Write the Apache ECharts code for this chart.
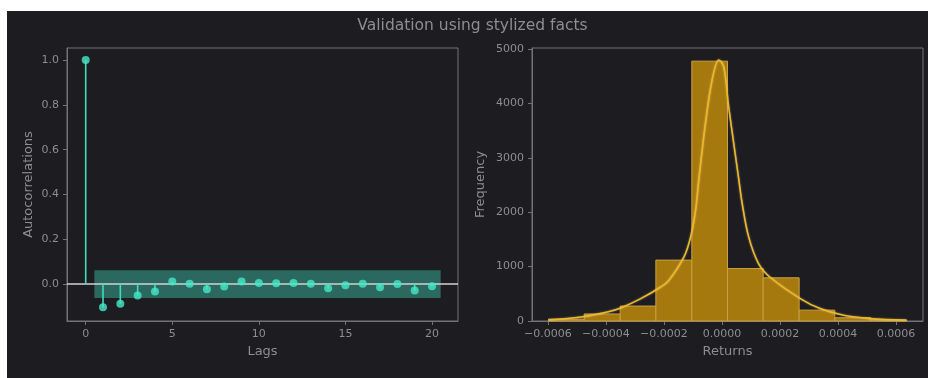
<!DOCTYPE html>
<html>
<head>
<meta charset="utf-8">
<script src="https://cdn.jsdelivr.net/npm/echarts@6/dist/echarts.min.js"></script>
<style>
  html, body { margin: 0; padding: 0; background: #ffffff; }
  #chart { width: 928px; height: 378px; }
</style>
</head>
<body>
<div id="chart"></div>
<script>
// Autocorrelation of returns, lags 0..20
const acfLags = [0, 1, 2, 3, 4, 5, 6, 7, 8, 9, 10, 11, 12, 13, 14, 15, 16, 17, 18, 19, 20];
const acfValues = [1.0, -0.104, -0.088, -0.051, -0.033, 0.011, 0.001, -0.023, -0.011, 0.011,
                   0.005, 0.004, 0.005, 0.001, -0.019, -0.005, 0.001, -0.014, 0.000, -0.029, -0.010];
const confBand = 0.062;
const confLagRange = [0.5, 20.5];
const acfTicksX = [0, 5, 10, 15, 20];
const acfTicksY = [0.0, 0.2, 0.4, 0.6, 0.8, 1.0];

// Histogram of returns
const binEdges = [-0.000598, -0.000475, -0.000351, -0.000228, -0.000104, 0.000019,
                  0.000142, 0.000266, 0.000389, 0.000513, 0.000636];
const binCounts = [35, 130, 275, 1120, 4780, 965, 795, 200, 60, 20];

// Kernel density estimate (scaled to counts)
const kdeX = [-0.000598, -0.000486, -0.000395, -0.000349, -0.000280, -0.000211, -0.000184,
              -0.000131, -0.000108, -0.000091, -0.000080, -0.000057, -0.000034, -0.000011,
              0.000006, 0.000023, 0.000041, 0.000058, 0.000069, 0.000092, 0.000126, 0.000167,
              0.000270, 0.000338, 0.000419, 0.000510, 0.000636];
const kdeY = [18, 74, 166, 240, 412, 626, 740, 1179, 1547, 2039, 2591, 3635, 4433, 4801,
              4678, 3941, 3250, 2600, 2180, 1547, 1057, 800, 412, 228, 105, 44, 12];
const histTicksX = [-0.0006, -0.0004, -0.0002, 0, 0.0002, 0.0004, 0.0006];
const histTicksY = [0, 1000, 2000, 3000, 4000, 5000];

const BG = '#1c1c21';
const FRAME = '#747474';
const TXT = '#8e8e8e';
const FONT = 'DejaVu Sans';

function axisCommon(ticks, fmt) {
  return {
    axisLine: { show: true, onZero: false, lineStyle: { color: FRAME, width: 1 } },
    axisTick: { show: true, length: 4, customValues: ticks, lineStyle: { color: FRAME } },
    axisLabel: { customValues: ticks, formatter: fmt, color: TXT, fontSize: 11, fontFamily: FONT, margin: 8 },
    splitLine: { show: false },
    nameTextStyle: { color: TXT, fontSize: 13, fontFamily: FONT }
  };
}

function returnLabel(v) {
  if (Math.abs(v) < 1e-12) return '0.0000';
  return v.toFixed(4).replace('-', '\u2212');
}

const chart = echarts.init(document.getElementById('chart'), null, { renderer: 'canvas' });

chart.setOption({
  backgroundColor: BG,
  animation: false,
  textStyle: { fontFamily: FONT },
  grid: [
    { left: 67, top: 48, width: 391, height: 273, show: true, borderColor: FRAME, borderWidth: 1, backgroundColor: 'transparent' },
    { left: 532, top: 48, width: 391, height: 273, show: true, borderColor: FRAME, borderWidth: 1, backgroundColor: 'transparent' }
  ],
  xAxis: [
    Object.assign(axisCommon(acfTicksX, v => String(v)), {
      type: 'value', gridIndex: 0, min: -1.08, max: 21.5,
      name: 'Lags', nameLocation: 'middle', nameGap: 24
    }),
    Object.assign(axisCommon(histTicksX, returnLabel), {
      type: 'value', gridIndex: 1, min: -0.000655, max: 0.000693,
      name: 'Returns', nameLocation: 'middle', nameGap: 24
    })
  ],
  yAxis: [
    Object.assign(axisCommon(acfTicksY, v => v.toFixed(1)), {
      type: 'value', gridIndex: 0, min: -0.165, max: 1.054,
      name: 'Autocorrelations', nameLocation: 'middle', nameGap: 32
    }),
    Object.assign(axisCommon(histTicksY, v => String(v)), {
      type: 'value', gridIndex: 1, min: 0, max: 5022,
      name: 'Frequency', nameLocation: 'middle', nameGap: 45
    })
  ],
  graphic: [
    { type: 'rect', shape: { x: 0, y: 0, width: 928, height: 11 }, style: { fill: '#ffffff' }, silent: true },
    { type: 'rect', shape: { x: 0, y: 0, width: 7, height: 378 }, style: { fill: '#ffffff' }, silent: true },
    { type: 'text', x: 472.5, y: 26,
      style: { text: 'Validation using stylized facts', fill: '#8e8e8e', font: '15.5px "DejaVu Sans"',
               textAlign: 'center', textVerticalAlign: 'middle' } }
  ],
  series: [
    // confidence band
    {
      type: 'custom', xAxisIndex: 0, yAxisIndex: 0, z: 1,
      data: [[confLagRange[0], confLagRange[1], confBand]],
      renderItem: function (params, api) {
        const p1 = api.coord([api.value(0), api.value(2)]);
        const p2 = api.coord([api.value(1), -api.value(2)]);
        return { type: 'rect', shape: { x: p1[0], y: p1[1], width: p2[0] - p1[0], height: p2[1] - p1[1] },
                 style: { fill: 'rgba(62,200,172,0.45)' } };
      }
    },
    // zero line
    {
      type: 'line', xAxisIndex: 0, yAxisIndex: 0, z: 2, symbol: 'none',
      data: [[-1.08, 0], [21.5, 0]],
      lineStyle: { color: '#d2d2d2', width: 1.5 }
    },
    // stems
    {
      type: 'custom', xAxisIndex: 0, yAxisIndex: 0, z: 3,
      data: acfLags.map((l, i) => [l, acfValues[i]]),
      renderItem: function (params, api) {
        const a = api.coord([api.value(0), 0]);
        const b = api.coord([api.value(0), api.value(1)]);
        return { type: 'line', shape: { x1: a[0], y1: a[1], x2: b[0], y2: b[1] },
                 style: { stroke: '#3fdcbc', lineWidth: 1.6 } };
      }
    },
    // markers
    {
      type: 'scatter', xAxisIndex: 0, yAxisIndex: 0, z: 4,
      symbol: 'circle', symbolSize: 8,
      itemStyle: { color: '#47e8c8' },
      data: acfLags.map((l, i) => [l, acfValues[i]])
    },
    // histogram bars
    {
      type: 'custom', xAxisIndex: 1, yAxisIndex: 1, z: 2,
      data: binCounts.map((c, i) => [binEdges[i], binEdges[i + 1], c]),
      renderItem: function (params, api) {
        const p1 = api.coord([api.value(0), api.value(2)]);
        const p2 = api.coord([api.value(1), 0]);
        return { type: 'rect', shape: { x: p1[0], y: p1[1], width: p2[0] - p1[0], height: p2[1] - p1[1] },
                 style: { fill: '#a6790f', stroke: '#c9a044', lineWidth: 1 } };
      }
    },
    // kde curve
    {
      type: 'line', xAxisIndex: 1, yAxisIndex: 1, z: 5, symbol: 'none', smooth: 0.35,
      data: kdeX.map((x, i) => [x, kdeY[i]]),
      lineStyle: { color: '#f0b820', width: 1.6, shadowColor: 'rgba(255,240,200,0.5)', shadowBlur: 2 }
    }
  ]
});
</script>
</body>
</html>
